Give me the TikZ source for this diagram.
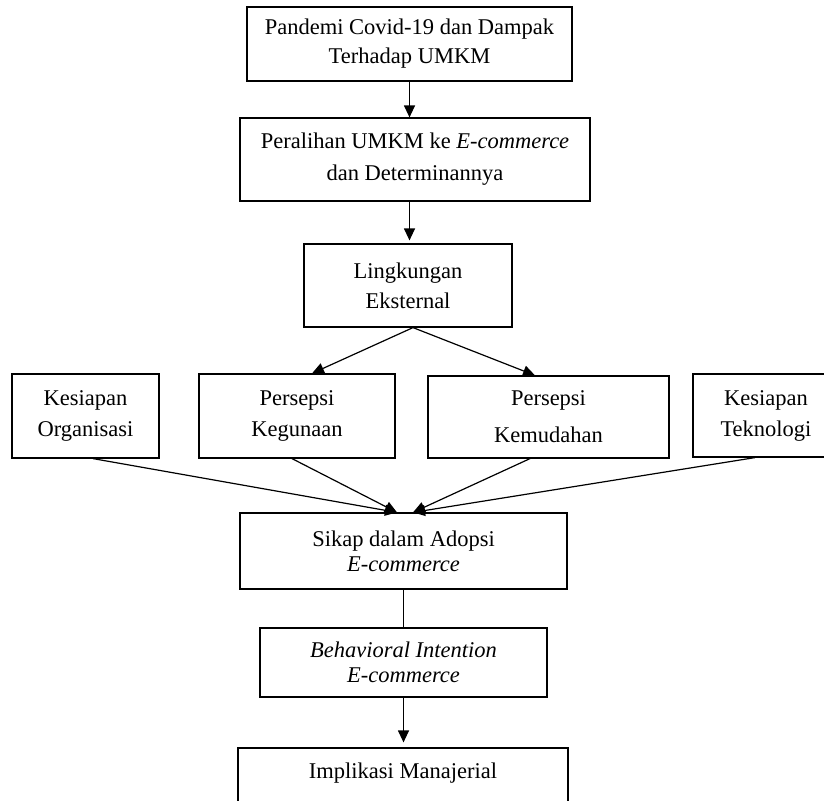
\documentclass[tikz,border=0pt]{standalone}
\usepackage{fontspec}
\setmainfont{Liberation Serif}
\usetikzlibrary{arrows.meta,calc}
\begin{document}
\begin{tikzpicture}[x=1pt,y=-1pt,
  bx/.style={draw,line width=1.2pt,inner sep=0pt,align=center,font=\fontsize{22.5}{30}\selectfont},
  arr/.style={line width=1.2pt,-{Triangle[length=12pt,width=11pt]}},
  ln/.style={line width=1.2pt}]
\useasboundingbox (0,0) rectangle (824,800);
\node[bx,minimum width=325pt,minimum height=74pt,font=\fontsize{22.5}{29}\selectfont] (p) at (409.5,44) {Pandemi Covid-19 dan Dampak\\Terhadap UMKM};
\node[bx,minimum width=350pt,minimum height=83pt,font=\fontsize{22.5}{32}\selectfont] (q) at (415,159.5) {Peralihan UMKM ke \textit{E-commerce}\\dan Determinannya};
\node[bx,minimum width=208pt,minimum height=83pt] (l) at (408,285.5) {Lingkungan\\Eksternal};
\node[bx,minimum width=147pt,minimum height=84pt,font=\fontsize{22.5}{31}\selectfont] (o) at (85.5,416) {Kesiapan\\Organisasi};
\node[bx,minimum width=196pt,minimum height=84pt,font=\fontsize{22.5}{31}\selectfont] (g) at (297,416) {Persepsi\\Kegunaan};
\node[bx,minimum width=241pt,minimum height=82pt,font=\fontsize{22.5}{37}\selectfont] (m) at (548.5,417) {Persepsi\\Kemudahan};
\node[bx,minimum width=146pt,minimum height=83pt,font=\fontsize{22.5}{31}\selectfont] (t) at (766,415.5) {Kesiapan\\Teknologi};
\node[bx,minimum width=327pt,minimum height=76pt,font=\fontsize{22.5}{25}\selectfont] (s) at (403.5,551) {Sikap dalam Adopsi\\\textit{E-commerce}};
\node[bx,minimum width=287pt,minimum height=69pt,font=\fontsize{22.5}{25}\selectfont] (b) at (403.5,662.5) {\textit{Behavioral Intention}\\\textit{E-commerce}};
\node[bx,minimum width=330pt,text height=30pt,text depth=37pt,anchor=base] (i) at (403,778) {Implikasi Manajerial};
% connectors
\draw[arr] (p.south) -- (p.south |- q.north);
\draw[arr,shorten >=3pt] (p.south |- q.south) -- (p.south |- l.north);
\draw[arr] ([xshift=5pt]l.south) -- ([xshift=15pt]g.north);
\draw[arr] ([xshift=5pt]l.south) -- ([xshift=-13.5pt]m.north);
\draw[arr] ([xshift=7.5pt]o.south) -- ([xshift=-6.5pt]s.north);
\draw[arr] ([xshift=-5pt]g.south) -- ([xshift=-6.5pt]s.north);
\draw[arr] ([xshift=-18.5pt]m.south) -- ([xshift=9.5pt]s.north);
\draw[arr] ([xshift=-11pt]t.south) -- ([xshift=9.5pt]s.north);
\draw[ln] (s.south) -- (b.north);
\draw[arr,shorten >=5pt] (b.south) -- (b.south |- i.north);
\end{tikzpicture}
\end{document}
